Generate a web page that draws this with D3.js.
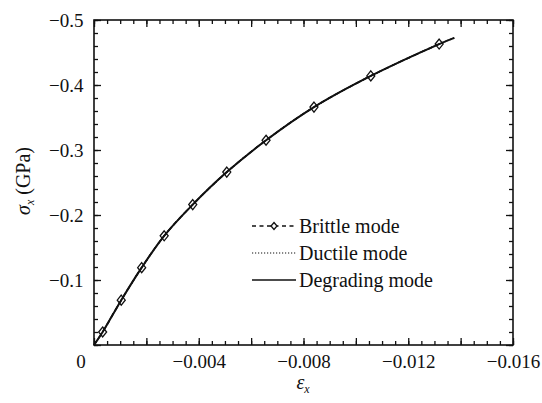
<!DOCTYPE html>
<html><head><meta charset="utf-8">
<script src="https://cdn.jsdelivr.net/npm/d3@7"></script>
<style>
body{margin:0;background:#fff;}
svg{display:block;}
text{font-family:"Liberation Serif","Times New Roman",serif;fill:#111;}
</style></head>
<body>
<svg id="chart" width="542" height="403"></svg>
<script>
// ---- data ----
const curveStrain = [0, -0.00033, -0.00104, -0.00182, -0.00268, -0.00377, -0.00507, -0.00657, -0.0084, -0.01057, -0.01318, -0.01376];
const curveStress = [0, -0.020, -0.069, -0.119, -0.168, -0.216, -0.266, -0.315, -0.366, -0.414, -0.463, -0.4725];
const brittleStrain = [-0.00033, -0.00104, -0.00182, -0.00268, -0.00377, -0.00507, -0.00657, -0.0084, -0.01057, -0.01318];
const brittleStress = [-0.020, -0.069, -0.119, -0.168, -0.216, -0.266, -0.315, -0.366, -0.414, -0.463];
const xTickLabels = [-0.004, -0.008, -0.012, -0.016];
const yTickLabels = [-0.1, -0.2, -0.3, -0.4, -0.5];
const legendLabels = ["Brittle mode", "Ductile mode", "Degrading mode"];

const svg = d3.select("#chart");
const L = 94, R = 513, T = 20, B = 345;
const x = d3.scaleLinear().domain([0, -0.016]).range([L, R]);
const y = d3.scaleLinear().domain([0, -0.5]).range([B, T]);

const xMinor = d3.range(0, 33).map(i => -i * 0.0005);
const xMajor = d3.range(0, 9).map(i => -i * 0.002);
const yMinor = d3.range(0, 26).map(i => -i * 0.02);
const yMajor = d3.range(0, 6).map(i => -i * 0.1);

const fontSize = 19;
function style(g){ g.select(".domain").remove(); g.selectAll("line").attr("stroke","#111").attr("stroke-width",1.3); g.selectAll("text").attr("font-size",fontSize).attr("font-family","Liberation Serif"); }

const isLabelX = v => xTickLabels.some(t => Math.abs(t - v) < 1e-9);
const isLabelY = v => yTickLabels.some(t => Math.abs(t - v) < 1e-9);

// bottom
svg.append("g").attr("transform",`translate(0,${B})`).call(d3.axisBottom(x).tickValues(xMinor).tickSize(-4).tickFormat("")).call(style);
svg.append("g").attr("transform",`translate(0,${B})`).call(d3.axisBottom(x).tickValues(xMajor).tickSize(-7).tickPadding(9.5)
  .tickFormat(v => isLabelX(v) ? d3.format(".3f")(v) : "")).call(style);
// top
svg.append("g").attr("transform",`translate(0,${T})`).call(d3.axisTop(x).tickValues(xMinor).tickSize(-4).tickFormat("")).call(style);
svg.append("g").attr("transform",`translate(0,${T})`).call(d3.axisTop(x).tickValues(xMajor).tickSize(-7).tickFormat("")).call(style);
// left
svg.append("g").attr("transform",`translate(${L},0)`).call(d3.axisLeft(y).tickValues(yMinor).tickSize(-4).tickFormat("")).call(style);
svg.append("g").attr("transform",`translate(${L},0)`).call(d3.axisLeft(y).tickValues(yMajor).tickSize(-7).tickPadding(10.5)
  .tickFormat(v => isLabelY(v) ? d3.format(".1f")(v) : "")).call(style);
// right
svg.append("g").attr("transform",`translate(${R},0)`).call(d3.axisRight(y).tickValues(yMinor).tickSize(-4).tickFormat("")).call(style);
svg.append("g").attr("transform",`translate(${R},0)`).call(d3.axisRight(y).tickValues(yMajor).tickSize(-7).tickFormat("")).call(style);

// frame
svg.append("rect").attr("x",L).attr("y",T).attr("width",R-L).attr("height",B-T)
  .attr("fill","none").attr("stroke","#111").attr("stroke-width",1.6);

// origin label
svg.append("text").attr("x",81).attr("y",368).attr("text-anchor","middle").attr("font-size",fontSize).text("0");

// axis titles
const xt = svg.append("text").attr("x",303).attr("y",389).attr("text-anchor","middle").attr("font-size",20);
xt.append("tspan").attr("font-style","italic").text("ε");
xt.append("tspan").attr("font-style","italic").attr("font-size",12).attr("dy",4).text("x");

const yt = svg.append("text").attr("transform","translate(30,181) rotate(-90)").attr("text-anchor","middle").attr("font-size",20);
yt.append("tspan").attr("font-style","italic").text("σ");
yt.append("tspan").attr("font-style","italic").attr("font-size",12).attr("dy",4).text("x");
yt.append("tspan").attr("dy",-4).text(" (GPa)");

// series
const curvePts = curveStrain.map((s,i)=>[s, curveStress[i]]);
const brittlePts = [[0,0]].concat(brittleStrain.map((s,i)=>[s, brittleStress[i]]));
const line = d3.line().x(d=>x(d[0])).y(d=>y(d[1])).curve(d3.curveCatmullRom.alpha(0.5));

svg.append("path").attr("d",line(brittlePts)).attr("fill","none").attr("stroke","#111").attr("stroke-width",1.6).attr("stroke-dasharray","5,3");
svg.append("path").attr("d",line(curvePts)).attr("fill","none").attr("stroke","#111").attr("stroke-width",1.4).attr("stroke-dasharray","1.5,1.5");
svg.append("path").attr("d",line(curvePts)).attr("fill","none").attr("stroke","#111").attr("stroke-width",2);

const diamond = (cx,cy,w,h)=>`M${cx},${cy-h}L${cx+w},${cy}L${cx},${cy+h}L${cx-w},${cy}Z`;
svg.append("g").selectAll("path").data(brittlePts.slice(1)).join("path")
  .attr("d",d=>diamond(x(d[0]),y(d[1]),4,5))
  .attr("fill","none").attr("stroke","#111").attr("stroke-width",1.3);

// legend
const lg = svg.append("g");
const ly = [226, 253, 280];
const lx0 = 252, lx1 = 296;
lg.append("line").attr("x1",lx0).attr("x2",lx1).attr("y1",ly[0]).attr("y2",ly[0]).attr("stroke","#111").attr("stroke-width",1.3).attr("stroke-dasharray","4,3.5");
lg.append("path").attr("d",diamond((lx0+lx1)/2,ly[0],3,3.5)).attr("fill","#fff").attr("stroke","#111").attr("stroke-width",1.3);
lg.append("line").attr("x1",lx0).attr("x2",lx1).attr("y1",ly[1]).attr("y2",ly[1]).attr("stroke","#111").attr("stroke-width",1.2).attr("stroke-dasharray","1.2,1.8");
lg.append("line").attr("x1",lx0).attr("x2",lx1).attr("y1",ly[2]).attr("y2",ly[2]).attr("stroke","#111").attr("stroke-width",1.5);
lg.selectAll("text").data(legendLabels).join("text")
  .attr("x",299).attr("y",(d,i)=>ly[i]+6.5).attr("font-size",20).text(d=>d);
</script>
</body></html>
